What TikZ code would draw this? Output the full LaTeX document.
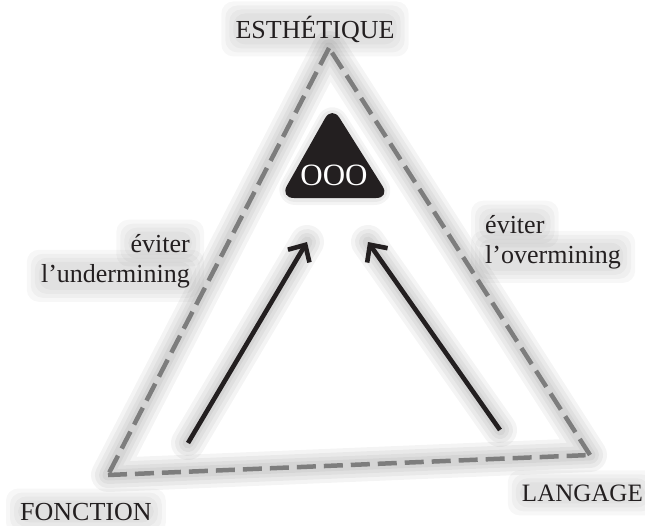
\documentclass[tikz,border=0pt]{standalone}
\usepackage{fontspec}
\setmainfont{Liberation Serif}
\usetikzlibrary{arrows.meta,backgrounds}
\definecolor{ink}{RGB}{35,31,32}
\definecolor{dashgray}{RGB}{125,125,125}
\tikzset{
  lbl/.style={font=\fontsize{26}{29}\selectfont, text=ink, inner sep=0pt},
  edge/.style={draw=dashgray, line width=4.5pt, dash pattern=on 19pt off 8pt},
  halo/.style={draw=black, line width=#1, opacity=0.045, line cap=round, line join=round},
  arr/.style={draw=ink, line width=4.6pt, -{Straight Barb[length=13pt,width=25pt,line width=4.6pt]}},
  texthalo/.style={fill=black, opacity=0.03, rounded corners=12pt}
}
\newcommand{\halobox}[1]{%
  \foreach \e in {2pt,6pt,10pt,14pt}{
    \fill[texthalo] ([xshift=-\e,yshift=-\e]#1.south west) rectangle ([xshift=\e,yshift=\e]#1.north east);
  }}
\begin{document}
\begin{tikzpicture}[x=1pt,y=-1pt]
\useasboundingbox (0,0) rectangle (645,525);
% vertices
\coordinate (T) at (329,48);
\coordinate (L) at (108,475);
\coordinate (R) at (590,455);
\coordinate (a1s) at (188,443);
\coordinate (a1e) at (307,242);
\coordinate (a2s) at (500,430);
\coordinate (a2e) at (368,242);
% halos
\foreach \w in {34pt,26pt,18pt,11pt}{
  \draw[halo=\w] (T) -- (L) -- (R) -- cycle;
  \draw[halo=\w] (a1s) -- (a1e);
  \draw[halo=\w] (a2s) -- (a2e);
}
\foreach \w in {16pt,10pt}{
  \draw[halo=\w, rounded corners=14pt] (332,108) -- (388,197) -- (282,197) -- cycle;
}
% dashed triangle
\draw[edge] (T) -- (L);
\draw[edge] (L) -- (R);
\draw[edge] (R) -- (T);
% black rounded triangle
\fill[ink, rounded corners=14pt] (332,106) -- (390,198) -- (280,198) -- cycle;
\node[lbl, text=white, font=\fontsize{31}{33}\selectfont, anchor=base] (ooo) at (334,185) {OOO};
% arrows
\draw[arr] (a1s) -- (a1e);
\draw[arr] (a2s) -- (a2e);
% labels
\node[lbl, anchor=base] (esth) at (315,38) {ESTHÉTIQUE};
\node[lbl, anchor=base east] (und1) at (190,252) {éviter};
\node[lbl, anchor=base east] (und2) at (190,282) {l’undermining};
\node[lbl, anchor=base west] (ove1) at (485,233) {éviter};
\node[lbl, anchor=base west] (ove2) at (485,263) {l’overmining};
\node[lbl, anchor=base west] (fonc) at (20,520) {FONCTION};
\node[lbl, font=\fontsize{25}{28}\selectfont, anchor=base east] (lang) at (643,501) {LANGAGE};
\begin{pgfonlayer}{background}
  \halobox{esth}\halobox{und1}\halobox{und2}\halobox{ove1}\halobox{ove2}\halobox{fonc}\halobox{lang}
\end{pgfonlayer}
\end{tikzpicture}
\end{document}
